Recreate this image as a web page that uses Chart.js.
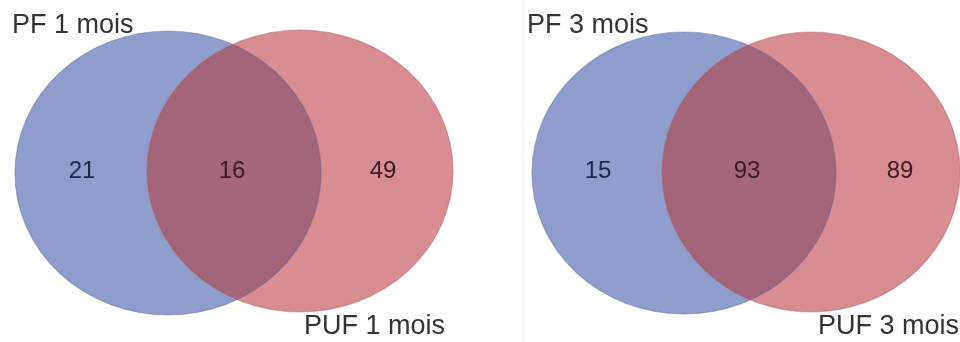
<!DOCTYPE html>
<html>
<head>
<meta charset="utf-8">
<script src="https://cdn.jsdelivr.net/npm/chart.js@4"></script>
<style>
  html, body { margin: 0; padding: 0; background: #fff; }
  #wrap { position: relative; width: 960px; height: 342px; overflow: hidden; }
  .panel { position: absolute; top: 0; width: 480px; height: 342px; }
  #sep { position: absolute; left: 523px; top: 0; width: 1px; height: 342px; background: #f1f1f1; }
</style>
</head>
<body>
<div id="wrap">
  <div class="panel" style="left:0"><canvas id="venn1"></canvas></div>
  <div id="sep"></div>
  <div class="panel" style="left:480px"><canvas id="venn2"></canvas></div>
</div>
<script>
// Données des deux diagrammes
const ensembleA = ['PF 1 mois', 'PF 3 mois'];
const ensembleB = ['PUF 1 mois', 'PUF 3 mois'];
const seulA = [21, 15];
const commun = [16, 93];
const seulB = [49, 89];

// Géométrie (unités des axes, 1 unité = 1 px)
const formes = [
  { a: { cx: 168, cy: 173, rx: 153, ry: 142 }, b: { cx: 300, cy: 171, rx: 153, ry: 141 },
    labA: [12, 33], labB: [304, 334], pos: [[82, 171], [232, 171], [383, 171]] },
  { a: { cx: 204, cy: 173, rx: 152, ry: 141 }, b: { cx: 331, cy: 172, rx: 149, ry: 140 },
    labA: [47, 33], labB: [338, 334], pos: [[118, 171], [267, 171], [420, 171]] }
];

const bleu = '#8e9dcb';
const rouge = '#d98c91';
const mixte = '#a2657a';

function ellipse(ctx, sx, sy, e) {
  const x = sx.getPixelForValue(e.cx);
  const y = sy.getPixelForValue(e.cy);
  const rx = Math.abs(sx.getPixelForValue(e.cx + e.rx) - x);
  const ry = Math.abs(sy.getPixelForValue(e.cy + e.ry) - y);
  ctx.beginPath();
  ctx.ellipse(x, y, rx, ry, 0, 0, Math.PI * 2);
}

const vennPlugin = {
  id: 'venn',
  beforeDatasetsDraw(chart, args, opts) {
    const ctx = chart.ctx;
    const sx = chart.scales.x, sy = chart.scales.y;
    const f = opts.forme;
    ctx.save();
    ellipse(ctx, sx, sy, f.a);
    ctx.fillStyle = bleu;
    ctx.fill();
    ellipse(ctx, sx, sy, f.b);
    ctx.fillStyle = rouge;
    ctx.fill();
    // intersection
    ctx.save();
    ellipse(ctx, sx, sy, f.a);
    ctx.clip();
    ellipse(ctx, sx, sy, f.b);
    ctx.fillStyle = mixte;
    ctx.fill();
    ctx.restore();
    ctx.lineWidth = 1.2;
    ellipse(ctx, sx, sy, f.a);
    ctx.strokeStyle = 'rgba(90,100,160,0.45)';
    ctx.stroke();
    ellipse(ctx, sx, sy, f.b);
    ctx.strokeStyle = 'rgba(170,90,100,0.45)';
    ctx.stroke();
    ctx.restore();
  },
  afterDatasetsDraw(chart, args, opts) {
    const ctx = chart.ctx;
    const sx = chart.scales.x, sy = chart.scales.y;
    const f = opts.forme;
    ctx.save();
    // nombres
    const pts = chart.data.datasets[0].data;
    const couleurs = ['#1f2748', '#3a1d27', '#3a1d24'];
    ctx.font = '24px "Liberation Sans", Arial, sans-serif';
    ctx.textAlign = 'center';
    ctx.textBaseline = 'middle';
    pts.forEach((p, i) => {
      ctx.fillStyle = couleurs[i];
      ctx.fillText(String(p.v), sx.getPixelForValue(p.x), sy.getPixelForValue(p.y));
    });
    // titres des ensembles
    ctx.font = '27px "Liberation Sans", Arial, sans-serif';
    ctx.textAlign = 'left';
    ctx.textBaseline = 'alphabetic';
    ctx.fillStyle = '#333';
    ctx.fillText(opts.titreA, sx.getPixelForValue(f.labA[0]), sy.getPixelForValue(f.labA[1]));
    ctx.fillText(opts.titreB, sx.getPixelForValue(f.labB[0]), sy.getPixelForValue(f.labB[1]));
    ctx.restore();
  }
};

function creerVenn(id, i) {
  const f = formes[i];
  const valeurs = [seulA[i], commun[i], seulB[i]];
  new Chart(document.getElementById(id), {
    type: 'scatter',
    data: {
      datasets: [{
        data: valeurs.map((v, k) => ({ x: f.pos[k][0], y: f.pos[k][1], v: v })),
        pointRadius: 0,
        pointHoverRadius: 0
      }]
    },
    options: {
      responsive: true,
      maintainAspectRatio: false,
      animation: false,
      layout: { padding: 0 },
      scales: {
        x: { type: 'linear', min: 0, max: 480, display: false },
        y: { type: 'linear', min: 0, max: 342, reverse: true, display: false }
      },
      plugins: {
        legend: { display: false },
        tooltip: { enabled: false },
        venn: { forme: f, titreA: ensembleA[i], titreB: ensembleB[i] }
      }
    },
    plugins: [vennPlugin]
  });
}

creerVenn('venn1', 0);
creerVenn('venn2', 1);
</script>
</body>
</html>
